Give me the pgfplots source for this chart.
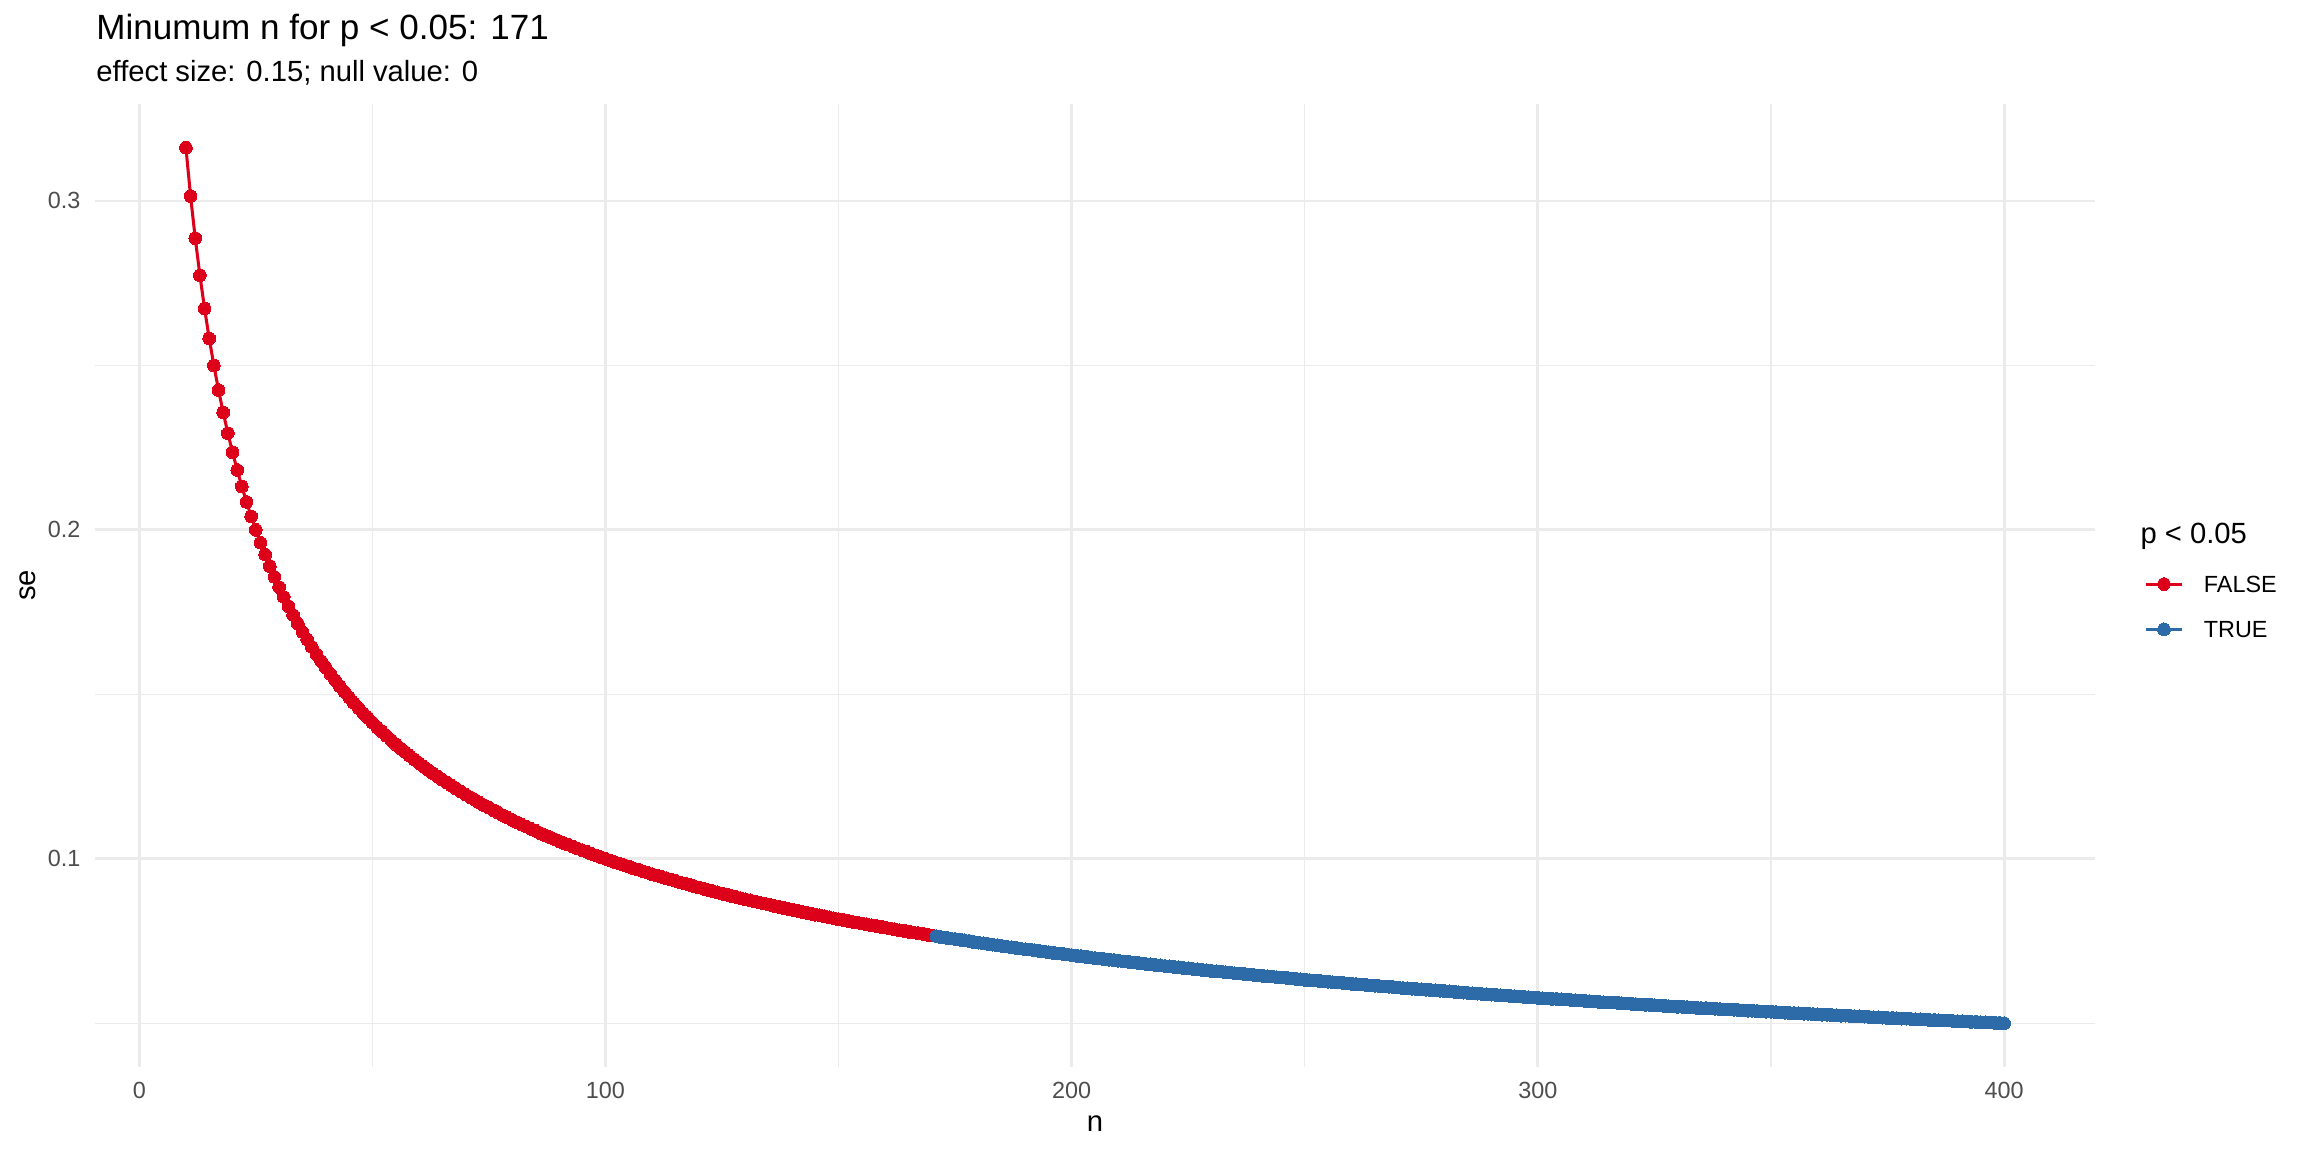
\documentclass[border=0pt]{standalone}
\usepackage{fontspec}
\setmainfont{Liberation Sans}
\usepackage{pgfplots}
\pgfplotsset{compat=1.18}
\definecolor{falsered}{HTML}{DD001A}
\definecolor{trueblue}{HTML}{2C6AA8}
\definecolor{gridgrey}{HTML}{EBEBEB}
\definecolor{ticktext}{HTML}{4D4D4D}

\begin{document}
\begin{tikzpicture}
\useasboundingbox (0,0) rectangle (867.24pt,433.62pt);
\node[anchor=base west, inner sep=0pt, font=\fontsize{13.2}{15}\selectfont] at (36.1pt,418.6pt) {Minumum n for p < 0.05: 171};
\node[anchor=base west, inner sep=0pt, font=\fontsize{11}{13}\selectfont] at (36.1pt,402.8pt) {effect size: 0.15; null value: 0};
\node[anchor=base west, inner sep=0pt, font=\fontsize{11}{13}\selectfont] at (805.5pt,229.2pt) {p < 0.05};
\begin{axis}[
  at={(35.76pt,32.0pt)}, anchor=south west,
  width=752.8pt, height=362.5pt, scale only axis,
  xmin=-9.5, xmax=419.5, ymin=0.0367, ymax=0.3295,
  xtick={0,100,200,300,400}, xticklabels={0,100,200,300,400},
  ytick={0.1,0.2,0.3}, yticklabels={0.1,0.2,0.3},
  minor xtick={50,150,250,350}, minor ytick={0.05,0.15,0.25},
  grid=both,
  major grid style={gridgrey, line width=1.07pt},
  minor grid style={gridgrey, line width=0.53pt},
  axis line style={draw=none},
  major tick length=0pt, minor tick length=0pt,
  tick label style={font=\fontsize{8.8}{10}\selectfont, text=ticktext, inner sep=0pt},
  xticklabel style={anchor=north, yshift=-5.6pt},
  yticklabel style={anchor=east, xshift=-5.3pt},
  xlabel={n}, ylabel={se},
  label style={font=\fontsize{11}{13}\selectfont},
  xlabel style={at={(axis description cs:0.5,-0.0675)}, anchor=base, inner sep=0pt},
  ylabel style={at={(axis description cs:-0.030,0.5)}, anchor=base, inner sep=0pt},
  legend style={draw=none, fill=none, at={(axis description cs:1.0245,0.5099)}, anchor=north west,
    inner sep=0pt, outer sep=0pt, row sep=10.9pt, column sep=7.5pt,
    font=\fontsize{8.8}{10}\selectfont, nodes={inner sep=0pt, text depth=0pt, text=black}},
  legend cell align=left,
  legend image code/.code={\draw[mark repeat=2, mark phase=2, #1] plot coordinates {(0pt,0pt) (6.95pt,0pt) (13.9pt,0pt)};},
]
% p >= 0.05 (FALSE)
\addplot[falsered, line width=1.15pt, mark=*, mark size=2.4pt, mark options={solid, line width=0pt}] coordinates {
(10,0.3162) (11,0.3015) (12,0.2887) (13,0.2774) (14,0.2673) (15,0.2582) (16,0.2500) (17,0.2425) (18,0.2357) (19,0.2294)
(20,0.2236) (21,0.2182) (22,0.2132) (23,0.2085) (24,0.2041) (25,0.2000) (26,0.1961) (27,0.1925) (28,0.1890) (29,0.1857)
(30,0.1826) (31,0.1796) (32,0.1768) (33,0.1741) (34,0.1715) (35,0.1690) (36,0.1667) (37,0.1644) (38,0.1622) (39,0.1601)
(40,0.1581) (41,0.1562) (42,0.1543) (43,0.1525) (44,0.1508) (45,0.1491) (46,0.1474) (47,0.1459) (48,0.1443) (49,0.1429)
(50,0.1414) (51,0.1400) (52,0.1387) (53,0.1374) (54,0.1361) (55,0.1348) (56,0.1336) (57,0.1325) (58,0.1313) (59,0.1302)
(60,0.1291) (61,0.1280) (62,0.1270) (63,0.1260) (64,0.1250) (65,0.1240) (66,0.1231) (67,0.1222) (68,0.1213) (69,0.1204)
(70,0.1195) (71,0.1187) (72,0.1179) (73,0.1170) (74,0.1162) (75,0.1155) (76,0.1147) (77,0.1140) (78,0.1132) (79,0.1125)
(80,0.1118) (81,0.1111) (82,0.1104) (83,0.1098) (84,0.1091) (85,0.1085) (86,0.1078) (87,0.1072) (88,0.1066) (89,0.1060)
(90,0.1054) (91,0.1048) (92,0.1043) (93,0.1037) (94,0.1031) (95,0.1026) (96,0.1021) (97,0.1015) (98,0.1010) (99,0.1005)
(100,0.1000) (101,0.0995) (102,0.0990) (103,0.0985) (104,0.0981) (105,0.0976) (106,0.0971) (107,0.0967) (108,0.0962) (109,0.0958)
(110,0.0953) (111,0.0949) (112,0.0945) (113,0.0941) (114,0.0937) (115,0.0933) (116,0.0928) (117,0.0925) (118,0.0921) (119,0.0917)
(120,0.0913) (121,0.0909) (122,0.0905) (123,0.0902) (124,0.0898) (125,0.0894) (126,0.0891) (127,0.0887) (128,0.0884) (129,0.0880)
(130,0.0877) (131,0.0874) (132,0.0870) (133,0.0867) (134,0.0864) (135,0.0861) (136,0.0857) (137,0.0854) (138,0.0851) (139,0.0848)
(140,0.0845) (141,0.0842) (142,0.0839) (143,0.0836) (144,0.0833) (145,0.0830) (146,0.0828) (147,0.0825) (148,0.0822) (149,0.0819)
(150,0.0816) (151,0.0814) (152,0.0811) (153,0.0808) (154,0.0806) (155,0.0803) (156,0.0801) (157,0.0798) (158,0.0796) (159,0.0793)
(160,0.0791) (161,0.0788) (162,0.0786) (163,0.0783) (164,0.0781) (165,0.0778) (166,0.0776) (167,0.0774) (168,0.0772) (169,0.0769)
(170,0.0767)
};
\addlegendentry{FALSE}
% p < 0.05 (TRUE)
\addplot[trueblue, line width=1.15pt, mark=*, mark size=2.4pt, mark options={solid, line width=0pt}] coordinates {
(171,0.0765) (172,0.0762) (173,0.0760) (174,0.0758) (175,0.0756) (176,0.0754) (177,0.0752) (178,0.0750) (179,0.0747)
(180,0.0745) (181,0.0743) (182,0.0741) (183,0.0739) (184,0.0737) (185,0.0735) (186,0.0733) (187,0.0731) (188,0.0729) (189,0.0727)
(190,0.0725) (191,0.0724) (192,0.0722) (193,0.0720) (194,0.0718) (195,0.0716) (196,0.0714) (197,0.0712) (198,0.0711) (199,0.0709)
(200,0.0707) (201,0.0705) (202,0.0704) (203,0.0702) (204,0.0700) (205,0.0698) (206,0.0697) (207,0.0695) (208,0.0693) (209,0.0692)
(210,0.0690) (211,0.0688) (212,0.0687) (213,0.0685) (214,0.0684) (215,0.0682) (216,0.0680) (217,0.0679) (218,0.0677) (219,0.0676)
(220,0.0674) (221,0.0673) (222,0.0671) (223,0.0670) (224,0.0668) (225,0.0667) (226,0.0665) (227,0.0664) (228,0.0662) (229,0.0661)
(230,0.0659) (231,0.0658) (232,0.0657) (233,0.0655) (234,0.0654) (235,0.0652) (236,0.0651) (237,0.0650) (238,0.0648) (239,0.0647)
(240,0.0645) (241,0.0644) (242,0.0643) (243,0.0642) (244,0.0640) (245,0.0639) (246,0.0638) (247,0.0636) (248,0.0635) (249,0.0634)
(250,0.0632) (251,0.0631) (252,0.0630) (253,0.0629) (254,0.0627) (255,0.0626) (256,0.0625) (257,0.0624) (258,0.0623) (259,0.0621)
(260,0.0620) (261,0.0619) (262,0.0618) (263,0.0617) (264,0.0615) (265,0.0614) (266,0.0613) (267,0.0612) (268,0.0611) (269,0.0610)
(270,0.0609) (271,0.0607) (272,0.0606) (273,0.0605) (274,0.0604) (275,0.0603) (276,0.0602) (277,0.0601) (278,0.0600) (279,0.0599)
(280,0.0598) (281,0.0597) (282,0.0596) (283,0.0594) (284,0.0593) (285,0.0592) (286,0.0591) (287,0.0590) (288,0.0589) (289,0.0588)
(290,0.0587) (291,0.0586) (292,0.0585) (293,0.0584) (294,0.0583) (295,0.0582) (296,0.0581) (297,0.0580) (298,0.0579) (299,0.0578)
(300,0.0577) (301,0.0576) (302,0.0575) (303,0.0574) (304,0.0574) (305,0.0573) (306,0.0572) (307,0.0571) (308,0.0570) (309,0.0569)
(310,0.0568) (311,0.0567) (312,0.0566) (313,0.0565) (314,0.0564) (315,0.0563) (316,0.0563) (317,0.0562) (318,0.0561) (319,0.0560)
(320,0.0559) (321,0.0558) (322,0.0557) (323,0.0556) (324,0.0556) (325,0.0555) (326,0.0554) (327,0.0553) (328,0.0552) (329,0.0551)
(330,0.0550) (331,0.0550) (332,0.0549) (333,0.0548) (334,0.0547) (335,0.0546) (336,0.0546) (337,0.0545) (338,0.0544) (339,0.0543)
(340,0.0542) (341,0.0542) (342,0.0541) (343,0.0540) (344,0.0539) (345,0.0538) (346,0.0538) (347,0.0537) (348,0.0536) (349,0.0535)
(350,0.0535) (351,0.0534) (352,0.0533) (353,0.0532) (354,0.0531) (355,0.0531) (356,0.0530) (357,0.0529) (358,0.0529) (359,0.0528)
(360,0.0527) (361,0.0526) (362,0.0526) (363,0.0525) (364,0.0524) (365,0.0523) (366,0.0523) (367,0.0522) (368,0.0521) (369,0.0521)
(370,0.0520) (371,0.0519) (372,0.0518) (373,0.0518) (374,0.0517) (375,0.0516) (376,0.0516) (377,0.0515) (378,0.0514) (379,0.0514)
(380,0.0513) (381,0.0512) (382,0.0512) (383,0.0511) (384,0.0510) (385,0.0510) (386,0.0509) (387,0.0508) (388,0.0508) (389,0.0507)
(390,0.0506) (391,0.0506) (392,0.0505) (393,0.0504) (394,0.0504) (395,0.0503) (396,0.0503) (397,0.0502) (398,0.0501) (399,0.0501)
(400,0.0500)
};
\addlegendentry{TRUE}
\end{axis}
\end{tikzpicture}
\end{document}
